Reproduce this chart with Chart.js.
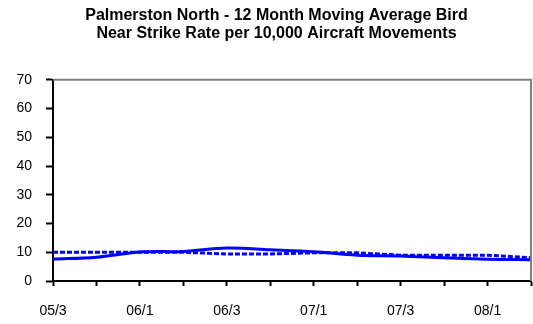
<!DOCTYPE html>
<html>
<head>
<meta charset="utf-8">
<script src="https://cdn.jsdelivr.net/npm/chart.js@4/dist/chart.umd.min.js"></script>
<style>
  html, body { margin: 0; padding: 0; background: #fff; }
  #wrap { width: 533px; height: 324px; }
</style>
</head>
<body>
<div id="wrap"><canvas id="c" width="533" height="324"></canvas></div>
<script>
const quarters = ['05/3', '05/4', '06/1', '06/2', '06/3', '06/4', '07/1', '07/2', '07/3', '07/4', '08/1', '08/2']
const movingAvg = [7.6, 8.3, 10.1, 10.3, 11.5, 10.9, 10.2, 9.0, 8.7, 8.1, 7.6, 7.4]
const benchmark = [10.0, 10.0, 10.0, 10.0, 9.4, 9.4, 9.8, 9.8, 9.0, 9.0, 9.0, 8.1]
const yTicks = [0, 10, 20, 30, 40, 50, 60, 70]

const fontFamily = '"Liberation Sans", Arial, sans-serif'

// grey frame on the top and right of the plot area, title nudged right
const frame = {
    id: 'frame',
    afterLayout(chart) {
        if (chart.titleBlock) chart.titleBlock.left = 22
    },
    afterDraw(chart) {
        const { ctx, chartArea: a } = chart
        ctx.save()
        ctx.strokeStyle = '#808080'
        ctx.lineWidth = 2
        ctx.beginPath()
        ctx.moveTo(a.left, a.top)
        ctx.lineTo(a.right, a.top)
        ctx.lineTo(a.right, a.bottom)
        ctx.stroke()
        ctx.restore()
    }
}

new Chart(document.getElementById('c'), {
    type: 'line',
    data: {
        labels: quarters,
        datasets: [{
            data: benchmark,
            borderColor: '#0000ff',
            borderWidth: 3,
            borderDash: [5, 2],
            pointRadius: 0,
            tension: 0
        }, {
            data: movingAvg,
            borderColor: '#0000ff',
            borderWidth: 3,
            pointRadius: 0,
            tension: 0.35
        }]
    },
    options: {
        responsive: false,
        animation: false,
        layout: { padding: { left: 0, right: 2, top: 0, bottom: 0 } },
        plugins: {
            legend: { display: false },
            tooltip: { enabled: false },
            title: {
                display: true,
                text: ['Palmerston North - 12 Month Moving Average Bird', 'Near Strike Rate per 10,000 Aircraft Movements'],
                color: '#000',
                font: { family: fontFamily, size: 16, weight: 'bold', lineHeight: 1.15 },
                padding: { top: 6, bottom: 37 }
            }
        },
        scales: {
            x: {
                offset: false,
                grid: { drawOnChartArea: false, drawTicks: true, tickLength: 5, tickColor: '#000', tickWidth: 2 },
                border: { color: '#000', width: 2 },
                ticks: {
                    autoSkip: false,
                    maxRotation: 0,
                    padding: 17,
                    color: '#000',
                    font: { family: fontFamily, size: 14 },
                    callback: (v, i) => i % 2 === 0 ? quarters[i] : ''
                },
                afterFit: s => {
                    s.height = 43
                    s.paddingLeft = 0
                    s.paddingRight = 0
                }
            },
            y: {
                min: 0,
                max: 70,
                afterBuildTicks: s => { s.ticks = yTicks.map(v => ({ value: v })) },
                grid: { drawOnChartArea: false, drawTicks: true, tickLength: 7, tickColor: '#000', tickWidth: 2 },
                border: { color: '#000', width: 2 },
                ticks: {
                    padding: 14,
                    color: '#000',
                    font: { family: fontFamily, size: 14 }
                },
                afterFit: s => {
                    s.width = 53
                    s.paddingTop = 0
                    s.paddingBottom = 0
                }
            }
        }
    },
    plugins: [frame]
})
</script>
</body>
</html>
